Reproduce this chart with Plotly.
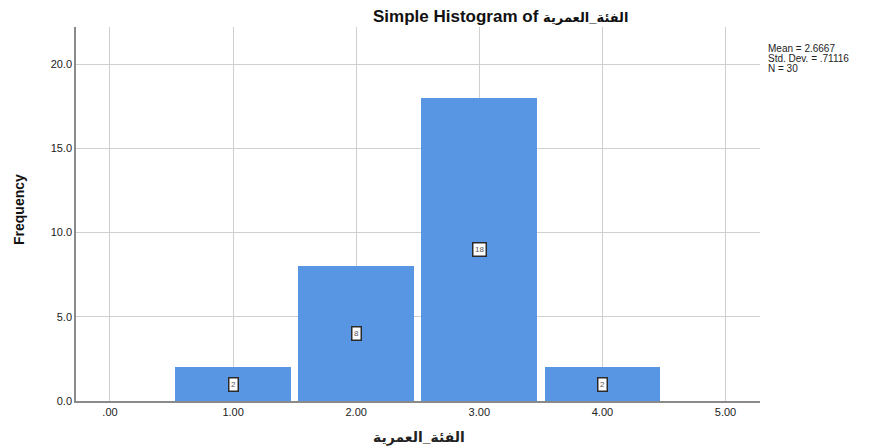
import plotly.graph_objects as go

categories = [1, 2, 3, 4]
frequencies = [2, 8, 18, 2]
x_tick_vals = [0, 1, 2, 3, 4, 5]
x_tick_text = [".00", "1.00", "2.00", "3.00", "4.00", "5.00"]
y_tick_vals = [0, 5, 10, 15, 20]
y_tick_text = ["0.0", "5.0", "10.0", "15.0", "20.0"]
var_name = "الفئة_العمرية"
stats_lines = ["Mean = 2.6667", "Std. Dev. = .71116", "N = 30"]

# body has an 8px default margin in the written page
W, H = 867, 438
L, R, T, B = 68, 115, 19, 45
PW, PH = W - L - R, H - T - B
FONT = "Liberation Sans, Arial, DejaVu Sans"


def px(xpage):
    return (xpage - 8 - L) / PW


def py(ypage):
    return 1 - (ypage - 8 - T) / PH


fig = go.Figure()
fig.add_trace(go.Bar(
    x=categories, y=frequencies, width=0.94,
    marker=dict(color="#5895E3", line=dict(width=0)),
    hoverinfo="x+y",
))

for c, f in zip(categories, frequencies):
    fig.add_annotation(
        x=c, y=f / 2, text=str(f), showarrow=False,
        font=dict(family=FONT, size=8, color="#555"),
        bgcolor="white", bordercolor="#2a2a2a", borderwidth=1.5, borderpad=1.5,
    )

for i, line in enumerate(stats_lines):
    fig.add_annotation(
        xref="paper", yref="paper", x=px(767), y=py(48 + 10 * i),
        xanchor="left", yanchor="middle",
        text=line, showarrow=False, align="left", borderpad=0,
        font=dict(family=FONT, size=10, color="#222"),
    )

# title
fig.add_annotation(
    xref="paper", yref="paper", x=px(500), y=py(16),
    xanchor="center", yanchor="middle",
    text="<b>Simple Histogram of <span style='font-size:13px'>" + var_name + "</span></b>",
    showarrow=False, font=dict(family=FONT, size=17, color="#111"),
)
# y axis title
fig.add_annotation(
    xref="paper", yref="paper", x=px(19), y=py(210),
    xanchor="center", yanchor="middle",
    text="<b>Frequency</b>", textangle=-90, showarrow=False,
    font=dict(family=FONT, size=14, color="#111"),
)
# x axis title
fig.add_annotation(
    xref="paper", yref="paper", x=px(419), y=py(437),
    xanchor="center", yanchor="middle",
    text="<b>" + var_name + "</b>", showarrow=False,
    font=dict(family=FONT, size=14, color="#222"),
)

fig.update_layout(
    width=W, height=H,
    margin=dict(l=L, r=R, t=T, b=B, autoexpand=False),
    paper_bgcolor="white", plot_bgcolor="white",
    showlegend=False, bargap=0,
    font=dict(family=FONT),
)
fig.update_xaxes(
    range=[-0.276, 5.28], tickvals=x_tick_vals, ticktext=x_tick_text,
    showgrid=True, gridcolor="#cfcfcf", gridwidth=1,
    showline=True, linecolor="#8a8a8a", linewidth=1.5,
    ticks="", tickfont=dict(size=11, color="#222"),
    zeroline=False, automargin=False,
)
fig.update_yaxes(
    range=[0, 22.2], tickvals=y_tick_vals, ticktext=y_tick_text,
    showgrid=True, gridcolor="#cfcfcf", gridwidth=1,
    showline=True, linecolor="#8a8a8a", linewidth=1.5,
    ticks="", tickfont=dict(size=11, color="#222"),
    zeroline=False, automargin=False,
)

fig.write_html("out.html")
